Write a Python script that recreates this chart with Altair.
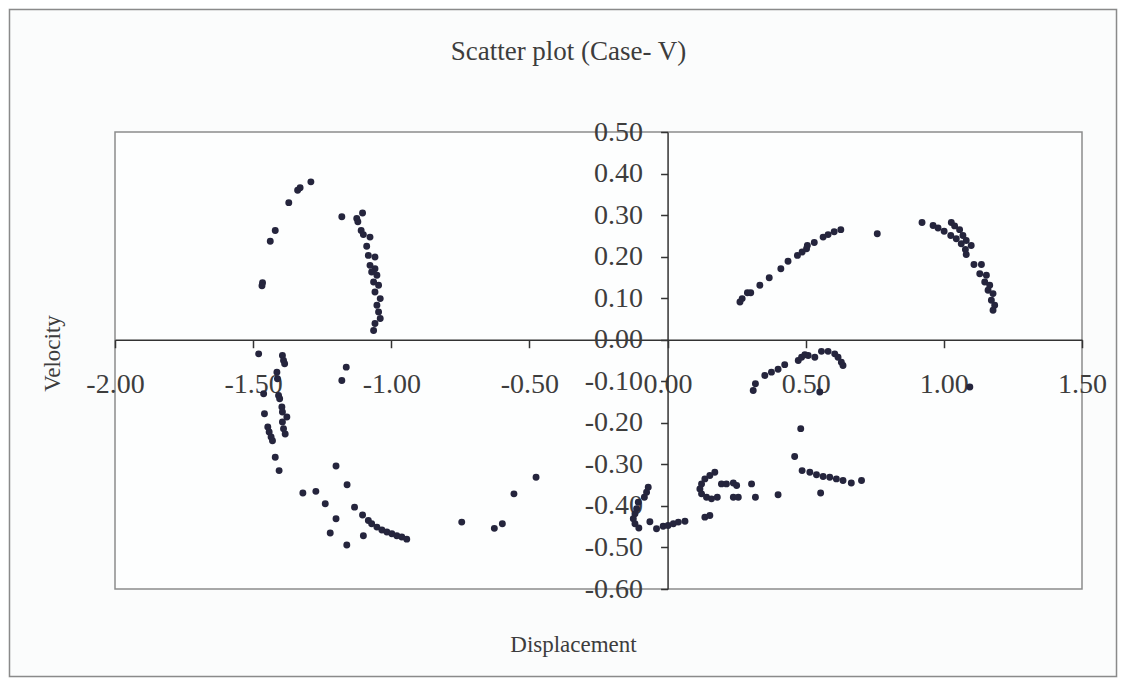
import altair as alt
import pandas as pd

# ---- data ----
displacement = [
    -1.291, -1.330, -1.339, -1.371, -1.420, -1.438, -1.466, -1.468,
    -1.179, -1.104, -1.125, -1.121, -1.109, -1.101, -1.077, -1.089,
    -1.083, -1.059, -1.077, -1.059, -1.071, -1.052, -1.064, -1.046, -1.059, -1.040,
    -1.052, -1.046, -1.040, -1.059, -1.064,
    -1.480, -1.394, -1.390, -1.386, -1.414, -1.412, -1.462, -1.408, -1.404, -1.396,
    -1.394, -1.378, -1.394, -1.390, -1.384, -1.459, -1.447, -1.442, -1.435, -1.430,
    -1.420, -1.406,
    -1.163, -1.179, -1.200, -1.160, -1.320, -1.273, -1.239, -1.133, -1.200, -1.221,
    -1.161, -1.101,
    -1.104, -1.083, -1.071, -1.052, -1.034, -1.016, -0.998, -0.980, -0.962, -0.944,
    -0.476, -0.556, -0.745, -0.627, -0.598,
    -0.070, -0.076, -0.084, -0.106, -0.112, -0.118, -0.124, -0.118, -0.104, -0.064,
    -0.040, -0.016,
    0.002, 0.021, 0.039, 0.063, 0.135, 0.153,
    0.171, 0.153, 0.135, 0.123, 0.117, 0.123, 0.141, 0.159, 0.180,
    0.195, 0.213, 0.238, 0.250, 0.238, 0.256, 0.304, 0.318, 0.400, 0.554,
    0.482, 0.460, 0.487, 0.515, 0.539, 0.563, 0.587, 0.611, 0.635, 0.665, 0.702,
    0.310, 0.318, 0.352, 0.376, 0.400, 0.424, 0.473, 0.485, 0.509, 0.533, 0.497,
    0.557, 0.581, 0.605, 0.617, 0.629, 0.635, 0.551, 1.094,
    0.262, 0.270, 0.289, 0.301, 0.334, 0.368, 0.410, 0.436, 0.470, 0.487, 0.503,
    0.506, 0.531, 0.563, 0.581, 0.603, 0.627, 0.759,
    0.921, 0.961, 0.979, 1.001, 1.027, 1.039, 1.057, 1.025, 1.045, 1.069, 1.081,
    1.063, 1.099, 1.078, 1.081, 1.109, 1.136, 1.130, 1.154, 1.148, 1.166, 1.160,
    1.178, 1.172, 1.184, 1.178,
]
velocity = [
    0.380, 0.366, 0.360, 0.330, 0.263, 0.237, 0.137, 0.130,
    0.296, 0.305, 0.292, 0.284, 0.263, 0.253, 0.247, 0.225,
    0.203, 0.199, 0.179, 0.171, 0.163, 0.155, 0.139, 0.131, 0.115, 0.099,
    0.083, 0.067, 0.051, 0.039, 0.022,
    -0.034, -0.038, -0.050, -0.058, -0.078, -0.094, -0.130, -0.134, -0.142, -0.162,
    -0.174, -0.186, -0.198, -0.214, -0.227, -0.178, -0.210, -0.222, -0.234, -0.243,
    -0.283, -0.315,
    -0.066, -0.098, -0.304, -0.349, -0.369, -0.365, -0.395, -0.403, -0.431, -0.465,
    -0.494, -0.472,
    -0.422, -0.435, -0.443, -0.451, -0.458, -0.463, -0.467, -0.472, -0.475, -0.480,
    -0.331, -0.371, -0.439, -0.454, -0.443,
    -0.355, -0.367, -0.379, -0.391, -0.407, -0.419, -0.431, -0.443, -0.453, -0.438,
    -0.455, -0.449,
    -0.447, -0.443, -0.439, -0.437, -0.427, -0.423,
    -0.319, -0.327, -0.335, -0.347, -0.359, -0.371, -0.379, -0.383, -0.379,
    -0.347, -0.347, -0.345, -0.351, -0.379, -0.379, -0.347, -0.379, -0.373, -0.369,
    -0.214, -0.281, -0.315, -0.319, -0.325, -0.329, -0.331, -0.335, -0.339, -0.345, -0.339,
    -0.122, -0.106, -0.086, -0.078, -0.071, -0.060, -0.050, -0.042, -0.038, -0.042, -0.036,
    -0.028, -0.028, -0.034, -0.042, -0.054, -0.062, -0.126, -0.114,
    0.091, 0.099, 0.113, 0.113, 0.131, 0.149, 0.171, 0.189, 0.203, 0.211, 0.219,
    0.227, 0.234, 0.247, 0.253, 0.260, 0.265, 0.255,
    0.282, 0.275, 0.269, 0.261, 0.282, 0.274, 0.265, 0.251, 0.243, 0.251, 0.239,
    0.231, 0.227, 0.217, 0.205, 0.181, 0.181, 0.159, 0.155, 0.139, 0.131, 0.119,
    0.111, 0.095, 0.083, 0.071,
]
x_ticks = [-2.0, -1.5, -1.0, -0.5, 0.0, 0.5, 1.0, 1.5]
y_ticks = [0.5, 0.4, 0.3, 0.2, 0.1, 0.0, -0.1, -0.2, -0.3, -0.4, -0.5, -0.6]
x_domain = [-2.0, 1.5]
y_domain = [-0.6, 0.5]
title_text = "Scatter plot (Case- V)"
x_title = "Displacement"
y_title = "Velocity"

# ---- layout ----
W, H = 967, 457
PAD = {"left": 107, "top": 124, "right": 36, "bottom": 89}
y_axis_offset = -W * (0 - x_domain[0]) / (x_domain[1] - x_domain[0])
x_axis_offset = -H * (0 - y_domain[0]) / (y_domain[1] - y_domain[0])

FONT = "Liberation Serif"
TXT = "#3d3d3d"
label_expr = "(datum.value < 0 ? '-' : '') + format(abs(datum.value), '.2f')"

df = pd.DataFrame({"Displacement": displacement, "Velocity": velocity})

points = alt.Chart(df).mark_circle(size=48, color="#25253d", opacity=1).encode(
    x=alt.X(
        "Displacement:Q",
        scale=alt.Scale(domain=x_domain, nice=False, zero=False),
        axis=alt.Axis(
            values=x_ticks, labelExpr=label_expr, offset=x_axis_offset,
            tickSize=8, labelPadding=23, labelFlush=False, labelOverlap=False,
            grid=False, title=x_title, titleX=458, titleY=312,
            titleAlign="center", titleBaseline="alphabetic",
            titleFont=FONT, titleFontSize=23, titleFontWeight="normal", titleColor=TXT,
            labelFont=FONT, labelFontSize=28, labelColor=TXT,
            domainColor="#333333", domainWidth=1.5, tickColor="#333333", tickWidth=1.5,
        ),
    ),
    y=alt.Y(
        "Velocity:Q",
        scale=alt.Scale(domain=y_domain, nice=False, zero=False),
        axis=alt.Axis(
            values=y_ticks, labelExpr=label_expr, offset=y_axis_offset,
            tickSize=7, labelPadding=18, labelFlush=False, labelOverlap=False,
            grid=False, title=y_title, titleX=-615, titleY=221, titleAngle=270,
            titleAlign="center", titleBaseline="middle",
            titleFont=FONT, titleFontSize=23, titleFontWeight="normal", titleColor=TXT,
            labelFont=FONT, labelFontSize=28, labelColor=TXT,
            domainColor="#333333", domainWidth=1.5, tickColor="#333333", tickWidth=1.5,
        ),
    ),
)

frame_df = pd.DataFrame({"k": [0]})
frame = alt.Chart(frame_df).mark_rect(fill=None, stroke="#8a8a8a", strokeWidth=1.5).encode(
    x=alt.value(-PAD["left"] + 1.5),
    x2=alt.value(W + PAD["right"] - 1.5),
    y=alt.value(-PAD["top"] + 1.5),
    y2=alt.value(H + PAD["bottom"] - 1.5),
)

chart = alt.layer(frame, points).properties(
    width=W, height=H,
    autosize=alt.AutoSizeParams(type="none"),
    padding=PAD,
    background="#fbfcfc",
    title=alt.TitleParams(
        text=title_text, font=FONT, fontSize=27, fontWeight="normal", color=TXT,
        anchor="middle", dx=-30, offset=-78, baseline="alphabetic",
    ),
).configure_view(stroke="#8c8c8c", strokeWidth=1.5, fill="#fdfefe")

chart.save("out.html", embed_options={"renderer": "svg", "actions": False})
